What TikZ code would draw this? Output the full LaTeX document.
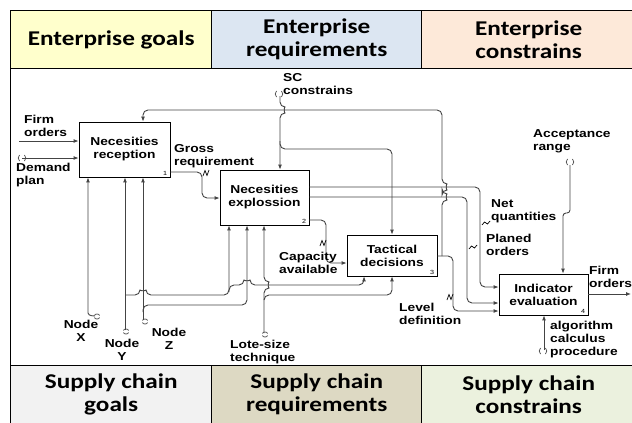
\documentclass[tikz,border=0pt]{standalone}
\usepackage{fontspec}
\usetikzlibrary{arrows.meta,calc}
\newfontfamily\lblfont{Liberation Sans}[FakeStretch=1.2]
\newfontfamily\hdrfont{Carlito}[FakeStretch=1.2]
\definecolor{hyel}{HTML}{FFFFCC}
\definecolor{hblu}{HTML}{DCE6F2}
\definecolor{hpea}{HTML}{FDE9D9}
\definecolor{fgry}{HTML}{F2F2F2}
\definecolor{ftan}{HTML}{DDD9C3}
\definecolor{fgrn}{HTML}{EBF1DE}
\definecolor{lncol}{HTML}{444444}
\newcommand\mytunV[2]{\draw[tun] (#1-2.5,#2-0.5) .. controls (#1-2.5,#2-2.5) and (#1+2.5,#2-2.5) .. (#1+2.5,#2-0.5);
  \draw[tun] (#1-2.5,#2+1.5) .. controls (#1-2.5,#2+3.5) and (#1+2.5,#2+3.5) .. (#1+2.5,#2+1.5);}
\newcommand\mytunP[2]{\draw[tun] (#1-2.5,#2-3) .. controls (#1-4.2,#2-1.5) and (#1-4.2,#2+1.5) .. (#1-2.5,#2+3);
  \draw[tun] (#1+2.5,#2-3) .. controls (#1+4.2,#2-1.5) and (#1+4.2,#2+1.5) .. (#1+2.5,#2+3);}
\newcommand\mysquig[2]{\draw[sq] (#1-3,#2+3) -- (#1-1,#2-2.5) -- (#1+1,#2+2.5) -- (#1+3,#2-3);}
\newcommand\mysquigH[2]{\draw[sq] (#1-4,#2+2) -- (#1-1.5,#2-1) -- (#1+1.5,#2+1) -- (#1+4,#2-2);}
\begin{document}
\begin{tikzpicture}[x=1pt,y=-1pt,
  hdrbox/.style={draw=black,line width=1.4pt,inner sep=0,anchor=north west,minimum height=58pt,
    font=\hdrfont\bfseries\fontsize{21}{23}\selectfont,align=center},
  fn/.style={draw=black,line width=0.8pt,fill=white,inner sep=0,
    font=\lblfont\bfseries\fontsize{11.5}{13}\selectfont,align=center},
  lbl/.style={font=\lblfont\bfseries\fontsize{11.5}{13}\selectfont,align=left,inner sep=0,anchor=west},
  lblc/.style={font=\lblfont\bfseries\fontsize{11.5}{13}\selectfont,align=center,inner sep=0},
  num/.style={font=\lblfont\fontsize{6}{6}\selectfont,inner sep=0,anchor=south east},
  conn/.style={draw=lncol,line width=0.9pt,rounded corners=5},
  arr/.style={conn,-{Latex[length=5pt,width=4pt]}},
  tun/.style={draw=lncol,line width=0.7pt},
  sq/.style={draw=black,line width=0.7pt},
]
\useasboundingbox (0,0) rectangle (632,423);
\fill[white] (0,0) rectangle (632,423);
% main frame
\draw[line width=0.8pt] (10,68) rectangle (640,365);
% header
\node[hdrbox,fill=hyel,minimum width=201pt] (h1) at (10,10) {Enterprise goals};
\node[hdrbox,fill=hblu,minimum width=210pt] (h2) at (211,10) {Enterprise\\requirements};
\node[hdrbox,fill=hpea,minimum width=214pt] (h3) at (421,10) {Enterprise\\constrains};
% footer
\node[hdrbox,fill=fgry,minimum width=201pt] (f1) at (10,365) {Supply chain\\goals};
\node[hdrbox,fill=ftan,minimum width=210pt] (f2) at (211,365) {Supply chain\\requirements};
\node[hdrbox,fill=fgrn,minimum width=214pt] (f3) at (421,365) {Supply chain\\constrains};

% boxes
\node[fn,minimum width=91pt,minimum height=55pt] (b1) at (124.5,149.5) {Necesities\\reception};
\node[fn,minimum width=89pt,minimum height=55pt] (b2) at (264.5,197.5) {Necesities\\explossion};
\node[fn,minimum width=90pt,minimum height=41pt] (b3) at (392,255.5) {Tactical\\decisions};
\node[fn,minimum width=89pt,minimum height=41pt] (b4) at (543.5,294.5) {Indicator\\evaluation};

% coordinates for free ends
\coordinate (fo-in) at (19,141);
\coordinate (dp-in) at (22,158);
\coordinate (sc-in) at (280,96);
\coordinate (sc-br) at (280,141);
\coordinate (fb) at (442,256);
\coordinate (ar-in) at (570,165);
\coordinate (fo-out) at (631,294);
\coordinate (al-in) at (544,350);
\coordinate (nx) at (95,316);
\coordinate (ny) at (125,330);
\coordinate (ny-br) at (125,295);
\coordinate (ny-br2) at (229,292);
\coordinate (nz) at (143,320);
\coordinate (nz-br) at (143,312);
\coordinate (ls) at (264,333);
\coordinate (ls-br) at (264,300);

% inputs of box 1
\draw[arr] (fo-in) -- (fo-in -| b1.west);
\draw[arr] (dp-in) -- (dp-in -| b1.west);
% gross requirement
\draw[arr] (b1.east |- 0,172) -- (202,172) -- (202,198) -- (b2.west |- 0,198);
% SC constrains
\draw[arr] (sc-in) -- (280,107) .. controls (284,107) and (284,113) .. (280,113) -- (sc-in |- b2.north);
\draw[arr] (sc-br) -- (280,149) -- (392,149) -- (392,200) -- (b3.north);
% feedback from tactical decisions
\draw[arr] (fb) -- (442,200) .. controls (446,200) and (446,194) .. (442,194)
  -- (442,190) .. controls (446,190) and (446,184) .. (442,184)
  -- (442,110) -- (143,110) -- (143,0 |- b1.north);
% level definition
\draw[arr] (b3.east |- 0,256) -- (453,256) -- (453,311) -- (b4.west |- 0,311);
% capacity available
\draw[arr] (b2.east |- 0,220) -- (326,220) -- (326,263) -- (b3.west |- 0,263);
% net quantities, planed orders
\draw[arr] (b2.east |- 0,187) -- (480,187) -- (480,287) -- (b4.west |- 0,287);
\draw[arr] (b2.east |- 0,197) -- (467,197) -- (467,303) -- (b4.west |- 0,303);
% acceptance range
\draw[arr,rounded corners=3] (ar-in) -- (570,213) -- (563,213) -- (563,0 |- b4.north);
% firm orders out
\draw[arr] (b4.east |- fo-out) -- (fo-out);
% algorithm
\draw[arr] (al-in) -- (al-in |- b4.south);
% mechanisms
\draw[arr] (nx) .. controls (89,316) and (88,314) .. (88,308) -- (88,0 |- b1.south);
\draw[arr] (ny) -- (ny |- b1.south);
\draw[arr] (ny-br) -- (140,295) .. controls (140,291) and (146,291) .. (146,295) -- (229,295) -- (229,0 |- b2.south);
\draw[arr] (ny-br2) -- (229,285) -- (244,285) .. controls (244,281) and (250,281) .. (250,285) -- (364,285) -- (364,0 |- b3.south);
\draw[arr] (nz) -- (nz |- b1.south);
\draw[arr] (nz-br) -- (143,305) -- (247,305) -- (247,0 |- b2.south);
\draw[arr] (ls) -- (264,288) .. controls (268,288) and (268,282) .. (264,282) -- (ls |- b2.south);
\draw[arr] (ls-br) -- (264,295) -- (392,295) -- (392,0 |- b3.south);

% tunnels
\mytunP{22}{158}
\mytunP{279}{94}
\mytunP{570}{162}
\mytunP{543}{351}
\mytunV{97}{316}
\mytunV{126}{331}
\mytunV{145}{321}
\mytunV{265}{334}
% squiggles
\mysquig{206}{173}
\mysquig{323}{243}
\mysquig{450}{297}
\mysquigH{486}{223}
\mysquigH{473}{247}

% numbers
\node[num] (n1) at ($(b1.south east)+(-3,-1.5)$) {1};
\node[num] (n2) at ($(b2.south east)+(-3,-1.5)$) {2};
\node[num] (n3) at ($(b3.south east)+(-3,-1.5)$) {3};
\node[num] (n4) at ($(b4.south east)+(-3,-1.5)$) {4};

% labels
\node[lbl] (t-fo) at (24,126) {Firm\\orders};
\node[lbl] (t-dp) at (16,175) {Demand\\plan};
\node[lbl] (t-gr) at (174,156) {Gross\\requirement};
\node[lbl] (t-sc) at (283,84) {SC\\constrains};
\node[lbl] (t-ca) at (279,263) {Capacity\\available};
\node[lbl] (t-nq) at (491,211) {Net\\quantities};
\node[lbl] (t-po) at (486,245) {Planed\\orders};
\node[lbl] (t-ld) at (399,314) {Level\\definition};
\node[lbl] (t-ar) at (533,141) {Acceptance\\range};
\node[lbl] (t-fo2) at (589,277) {Firm\\orders};
\node[lbl] (t-al) at (550,340) {algorithm\\calculus\\procedure};
\node[lblc] (t-nx) at (81,331) {Node\\X};
\node[lblc] (t-ny) at (122,350) {Node\\Y};
\node[lblc] (t-nz) at (169,339) {Node\\Z};
\node[lbl] (t-ls) at (230,352) {Lote-size\\technique};
\end{tikzpicture}
\end{document}
